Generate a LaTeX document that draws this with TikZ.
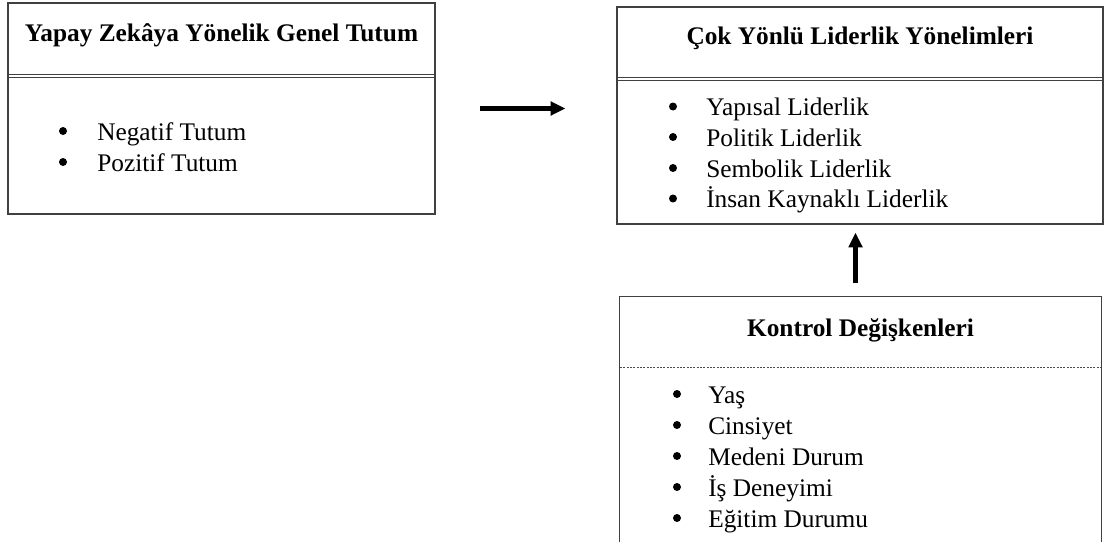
\documentclass[tikz,border=0pt]{standalone}
\usepackage{fontspec}
\setmainfont{Liberation Serif}
\usepackage{tikz}
\usetikzlibrary{arrows.meta,positioning,calc}
\tikzset{
  %% Boxes
  frameBox/.style={draw=black!75, line width=0.9pt, inner sep=0pt},
  openBox/.style={inner sep=0pt},
  boxLine/.style={draw=black!75, line width=0.9pt},
  %% Header rules
  ruleLine/.style={draw=black!75, line width=0.7pt},
  dashRule/.style={draw=black!70, dash pattern=on 1.5pt off 1pt, line width=0.5pt},
  %% Texts
  headText/.style={font=\fontsize{19}{23}\selectfont\bfseries, anchor=base, inner sep=0pt},
  itemText/.style={font=\fontsize{19}{23}\selectfont, anchor=base west, inner sep=0pt},
  dotMark/.style={circle, fill=black, inner sep=0pt, minimum size=6pt},
  %% Arrows
  flowArrow/.style={-{Triangle[length=11pt, width=10pt]}, line width=3.3pt},
}

\begin{document}
\begin{tikzpicture}[x=0.75pt, y=-0.75pt]
\useasboundingbox (0,0) rectangle (1105,542);

%% Boxes
\node[frameBox, minimum width=320.25pt, minimum height=158.25pt] (tutBox) at (221.5,108.5) {};
\node[frameBox, minimum width=364.5pt, minimum height=162.75pt] (lidBox) at (860,115.5) {};
\node[openBox, minimum width=360.75pt, minimum height=183.75pt] (ctrlBox) at (860.5,419.5) {};
\draw[boxLine] (ctrlBox.south west) |- (ctrlBox.north east) -- (ctrlBox.south east);

%% Header rules (double under the first two titles)
\foreach \y in {74.5, 77.5}
  \draw[ruleLine] (8,\y) -- (435,\y);
\foreach \y in {77.5, 80.5}
  \draw[ruleLine] (617,\y) -- (1103,\y);
\draw[dashRule] (620,367) -- (1101,367);

%% Titles
\node[headText] (tutHead) at (221.5,42) {Yapay Zekâya Yönelik Genel Tutum};
\node[headText] (lidHead) at (860,45) {Çok Yönlü Liderlik Yönelimleri};
\node[headText] (ctrlHead) at (860.5,336) {Kontrol Değişkenleri};

%% Item lists
\foreach \y/\txt [count=\i] in {140/Negatif Tutum, 171/Pozitif Tutum}{
  \node[dotMark] (tutDot\i) at (63,\y-9) {};
  \node[itemText] (tutItem\i) at (97,\y) {\txt};
}
\foreach \y/\txt [count=\i] in {115.5/Yapısal Liderlik, 146/Politik Liderlik, 177/Sembolik Liderlik, 207.5/İnsan Kaynaklı Liderlik}{
  \node[dotMark] (lidDot\i) at (673,\y-9) {};
  \node[itemText] (lidItem\i) at (706,\y) {\txt};
}
\foreach \y/\txt [count=\i] in {403/Yaş, 434/Cinsiyet, 465/Medeni Durum, 496/İş Deneyimi, 527/Eğitim Durumu}{
  \node[dotMark] (ctrlDot\i) at (677,\y-9) {};
  \node[itemText] (ctrlItem\i) at (708,\y) {\txt};
}

%% Arrows
\draw[flowArrow, shorten <=33pt, shorten >=38.25pt] (tutBox.east) -- (tutBox.east -| lidBox.west);
\draw[flowArrow, shorten <=10.5pt, shorten >=6pt] ([xshift=-3.75pt]ctrlBox.north) -- ([xshift=-3.75pt]ctrlBox.north |- lidBox.south);

\end{tikzpicture}
\end{document}
